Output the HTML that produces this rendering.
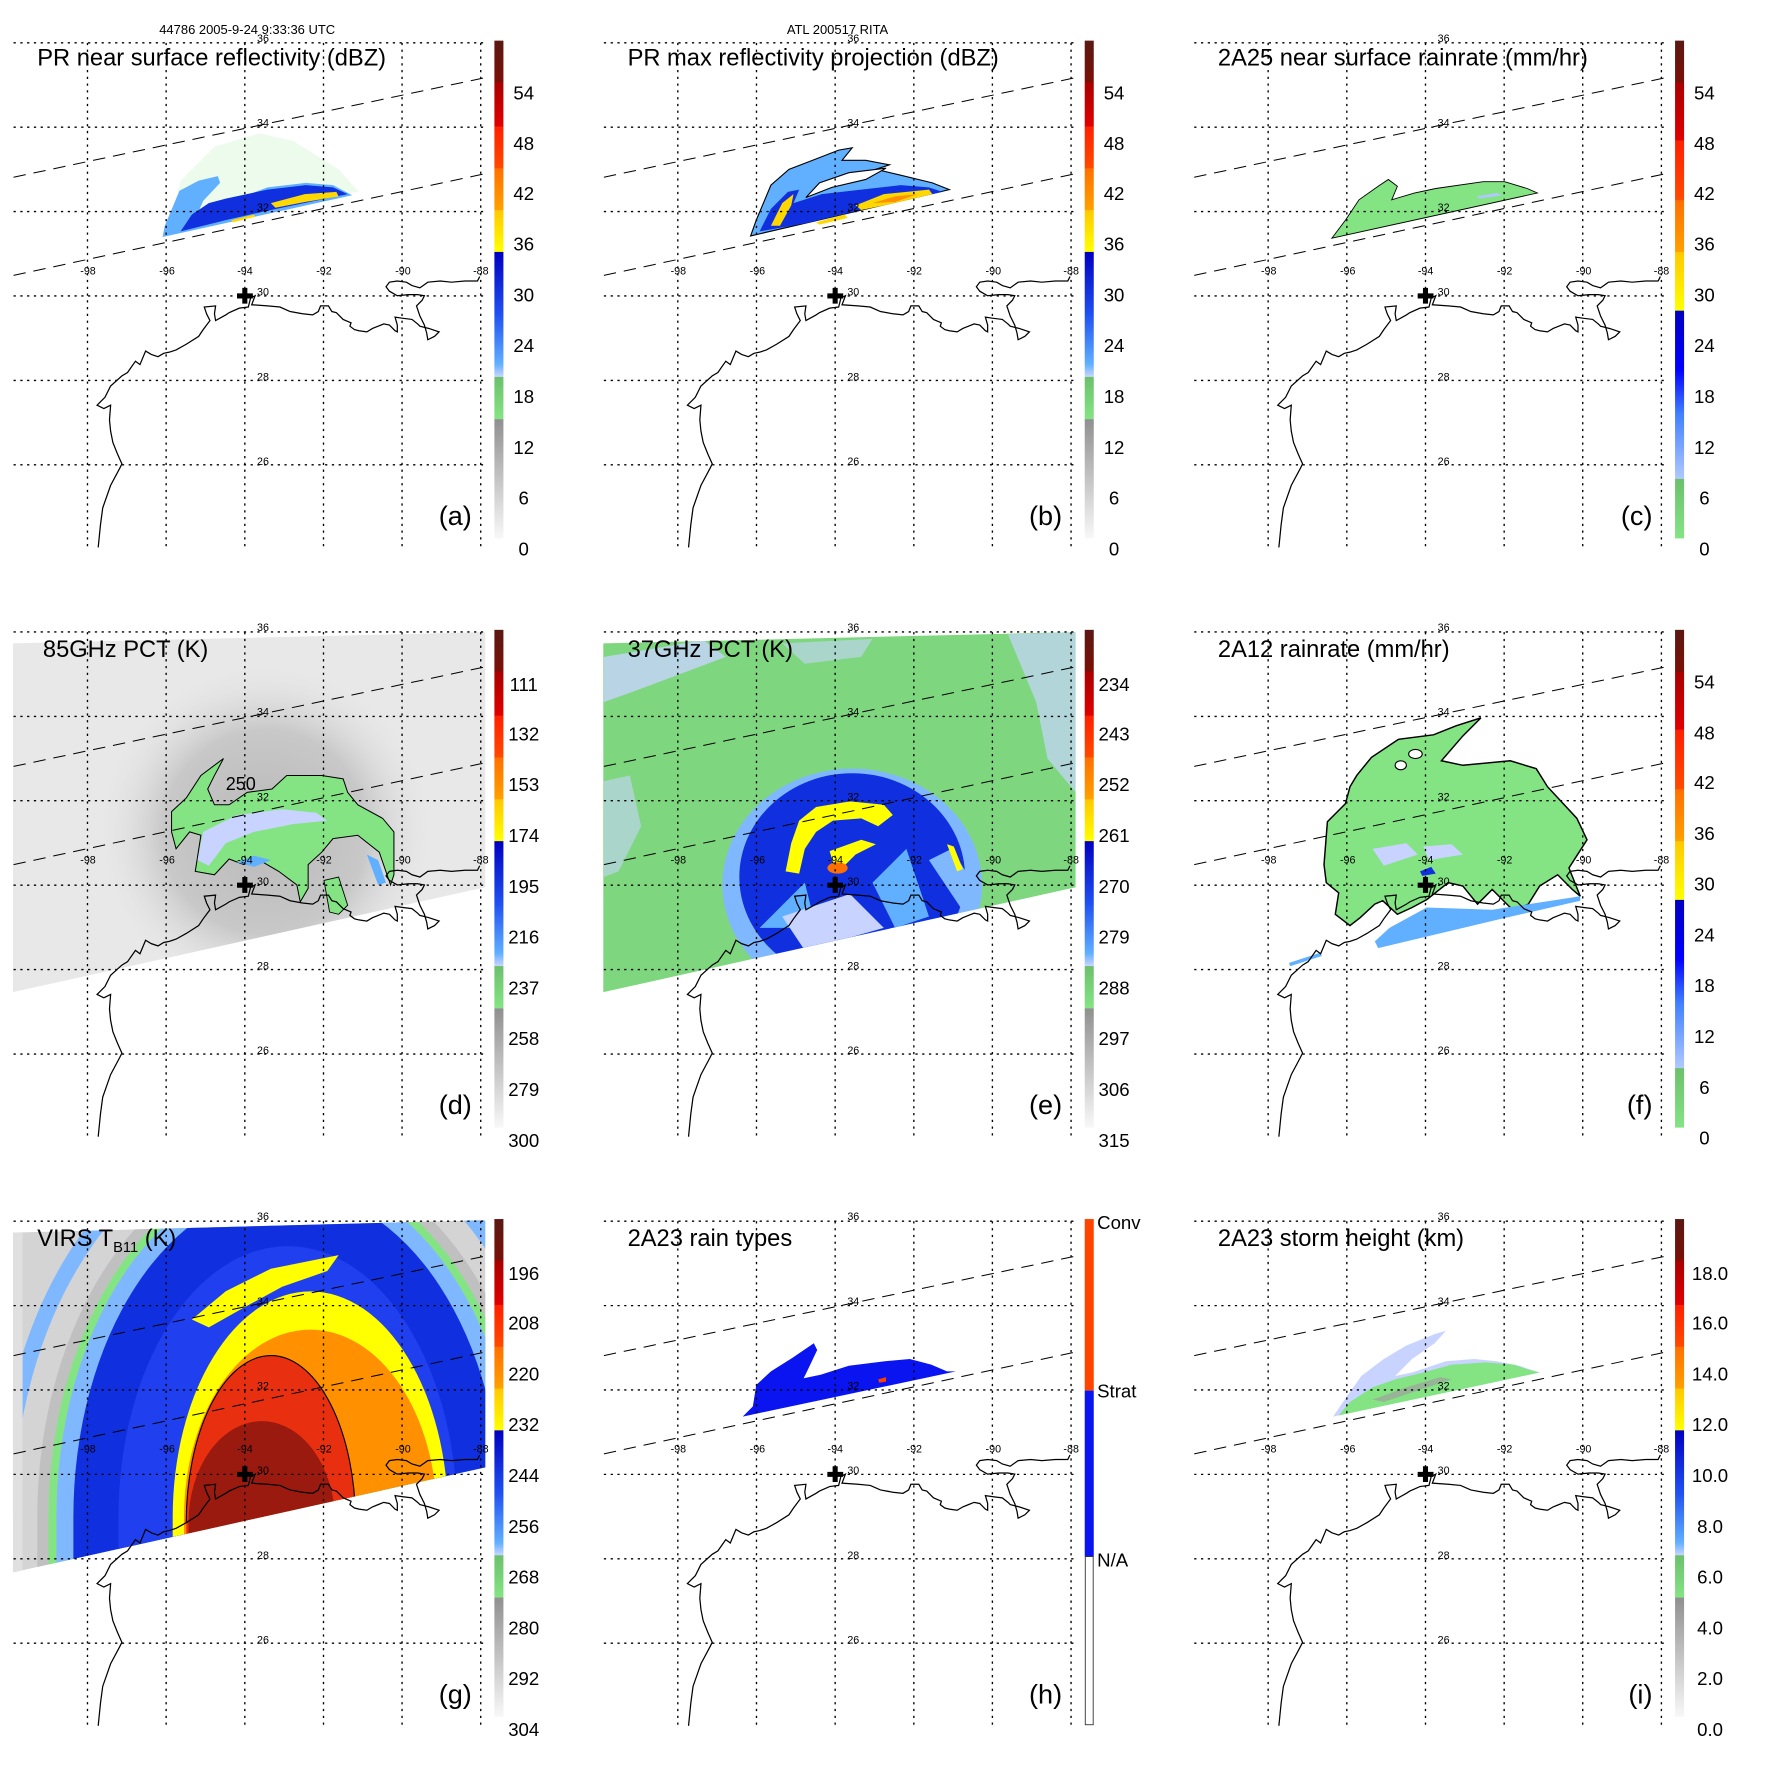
<!DOCTYPE html>
<html><head><meta charset="utf-8"><style>
html,body{margin:0;padding:0;background:#fff;width:1771px;height:1771px;overflow:hidden}
svg{display:block}
text{font-family:"Liberation Sans",sans-serif}
</style></head><body>
<svg width="1771" height="1771" viewBox="0 0 1569 1569" xmlns="http://www.w3.org/2000/svg">
<defs>
<clipPath id="se"><polygon points="11.5,48 430,38 430,264 11.5,357"/></clipPath>
<g id="grid">
 <g stroke="#000" stroke-width="1.2" stroke-dasharray="2,4" fill="none">
  <path d="M77.5 38V485M147.2 38V485M216.9 38V485M286.6 38V485M356.2 38V485M425.9 38V485"/>
  <path d="M12 37.9H430M12 112.7H430M12 187.4H430M12 262.2H430M12 337H430M12 411.8H430"/>
 </g>
 <g stroke="#000" stroke-width="0.9" stroke-dasharray="11,7" fill="none">
  <path d="M12 157L429 69"/><path d="M12 244L429 154"/>
 </g>
 <path fill="none" stroke="#000" stroke-width="1.1" d="M87 485L89 465L91 450L98 430L106 415L108 411L104 402L100 392L98 382L97 372L98 359L92 362L86 359L88 357L93 352L98 342L108 333L113 330L120 320L124 323L129 311L134 314L140 316L145 313L150 312L156 310L165 305L176 298L180 292L186 284L183 278L181 272L191 271L190 278L191 284L200 279L203 277L212 273L220 272L222 264L226 262L223 270L237 271L248 272L257 276L268 278L277 279L282 276L284 271L291 271L294 276L298 277L304 283L311 286L310 289L314 292L318 293L325 294L330 291L335 289L340 287L345 288L350 293L352 294L352 288L350 281L357 282L365 283L370 287L372 289L380 291L389 294L385 298L379 301L378 295L376 288L372 280L369 271L374 266L376 262L370 261L362 261L352 262L345 258L342 254L345 250L352 249L360 250L365 253L372 255L379 250L390 249L400 250L412 249L423 249L425 245"/>
 <path d="M216.9 255V269M210 262.2H224" stroke="#000" stroke-width="4.5"/>
 <g font-size="9.5" fill="#000">
  <text x="233" y="37" text-anchor="middle">36</text>
  <text x="233" y="112" text-anchor="middle">34</text>
  <text x="233" y="187" text-anchor="middle">32</text>
  <text x="233" y="262" text-anchor="middle">30</text>
  <text x="233" y="337" text-anchor="middle">28</text>
  <text x="233" y="412" text-anchor="middle">26</text>
  <text x="78" y="243" text-anchor="middle">-98</text>
  <text x="148" y="243" text-anchor="middle">-96</text>
  <text x="217" y="243" text-anchor="middle">-94</text>
  <text x="287" y="243" text-anchor="middle">-92</text>
  <text x="357" y="243" text-anchor="middle">-90</text>
  <text x="426" y="243" text-anchor="middle">-88</text>
 </g>
</g>
<linearGradient id="gA" x1="0" y1="36" x2="0" y2="477" gradientUnits="userSpaceOnUse">
 <stop offset="0" stop-color="#5a1812"/><stop offset="0.083" stop-color="#7a1008"/>
 <stop offset="0.084" stop-color="#a80000"/><stop offset="0.172" stop-color="#e00000"/>
 <stop offset="0.173" stop-color="#ff2000"/><stop offset="0.256" stop-color="#ff4a00"/>
 <stop offset="0.257" stop-color="#ff7000"/><stop offset="0.34" stop-color="#ffa000"/>
 <stop offset="0.341" stop-color="#ffc800"/><stop offset="0.424" stop-color="#ffff00"/>
 <stop offset="0.425" stop-color="#0000c0"/><stop offset="0.55" stop-color="#2050f0"/>
 <stop offset="0.65" stop-color="#60b0ff"/><stop offset="0.675" stop-color="#c8d4ff"/>
 <stop offset="0.676" stop-color="#6cc06c"/><stop offset="0.76" stop-color="#84e484"/>
 <stop offset="0.761" stop-color="#909090"/><stop offset="1" stop-color="#f8f8f8"/>
</linearGradient>
<linearGradient id="gB" x1="0" y1="36" x2="0" y2="477" gradientUnits="userSpaceOnUse">
 <stop offset="0" stop-color="#5a1812"/><stop offset="0.084" stop-color="#7a1008"/>
 <stop offset="0.085" stop-color="#a80000"/><stop offset="0.2" stop-color="#e00000"/>
 <stop offset="0.201" stop-color="#ff2000"/><stop offset="0.32" stop-color="#ff4a00"/>
 <stop offset="0.321" stop-color="#ff7000"/><stop offset="0.424" stop-color="#ffa000"/>
 <stop offset="0.425" stop-color="#ffc800"/><stop offset="0.542" stop-color="#ffff00"/>
 <stop offset="0.543" stop-color="#0000c0"/><stop offset="0.66" stop-color="#0000ff"/>
 <stop offset="0.75" stop-color="#4080ff"/><stop offset="0.88" stop-color="#b0c8ff"/>
 <stop offset="0.881" stop-color="#6cc06c"/><stop offset="1" stop-color="#84e484"/>
</linearGradient>
<radialGradient id="halo" cx="235" cy="215" r="150" gradientUnits="userSpaceOnUse">
 <stop offset="0" stop-color="#b8b8b8"/><stop offset="0.6" stop-color="#c8c8c8"/><stop offset="1" stop-color="#e6e6e6" stop-opacity="0"/>
</radialGradient>
</defs>

<g font-size="11.5"><text x="219" y="30" text-anchor="middle">44786 2005-9-24 9:33:36 UTC</text>
<text x="742" y="30" text-anchor="middle">ATL 200517 RITA</text></g>

<!-- a -->
<g>
 <polygon fill="#84e484" opacity="0.15" points="150,200 160,160 190,130 230,118 260,125 300,150 318,170 230,180"/>
 <polygon fill="#60b0ff" points="144,210 146,200 159,169 176,160 193,156 195,162 180,178 172,196 190,190 205,178 237,166 271,162 295,164 312,173"/>
 <polygon fill="#1030e0" points="160,205 170,190 185,180 200,176 237,168 271,164 295,166 308,172 240,186 200,195"/>
 <polygon fill="#ffd800" points="240,180 270,172 298,170 300,174 270,179 244,184"/>
 <polygon fill="#ffd800" points="205,195 225,190 226,192 206,197"/>
 <use href="#grid"/>
 <rect x="438" y="36" width="8" height="441" fill="url(#gA)"/>
 <g font-size="16.5" text-anchor="middle"><text x="464" y="88">54</text><text x="464" y="133">48</text><text x="464" y="177">42</text><text x="464" y="222">36</text><text x="464" y="267">30</text><text x="464" y="312">24</text><text x="464" y="357">18</text><text x="464" y="402">12</text><text x="464" y="447">6</text><text x="464" y="492">0</text></g>
 <text x="33" y="58" font-size="21">PR near surface reflectivity (dBZ)</text>
 <text x="418" y="465" font-size="24" text-anchor="end">(a)</text>
</g>

<!-- b -->
<g transform="translate(523,0)">
 <polygon fill="#60b0ff" stroke="#000" stroke-width="1" points="142,209 147,195 160,164 176,150 197,142 220,133 232,131 223,142 244,142 265,146 253,150 274,155 303,162 318,168"/>
 <polygon fill="#fff" stroke="#000" stroke-width="1" points="191,175 203,162 229,153 262,149 244,159 214,166"/>
 <polygon fill="#1030e0" points="150,205 160,185 175,170 185,168 180,180 205,172 240,168 275,164 300,166 312,170 240,186 190,198"/>
 <polygon fill="#ffd800" points="160,200 170,180 180,172 178,182 168,200"/>
 <polygon fill="#ffd800" points="235,182 260,172 300,168 303,172 260,182 240,186"/>
 <polygon fill="#ff9000" points="250,180 270,174 290,172 270,179"/>
 <polygon fill="#ffd800" points="200,197 225,190 228,193 203,199"/>
 <use href="#grid"/>
 <rect x="438" y="36" width="8" height="441" fill="url(#gA)"/>
 <g font-size="16.5" text-anchor="middle"><text x="464" y="88">54</text><text x="464" y="133">48</text><text x="464" y="177">42</text><text x="464" y="222">36</text><text x="464" y="267">30</text><text x="464" y="312">24</text><text x="464" y="357">18</text><text x="464" y="402">12</text><text x="464" y="447">6</text><text x="464" y="492">0</text></g>
 <text x="33" y="58" font-size="21">PR max reflectivity projection (dBZ)</text>
 <text x="418" y="465" font-size="24" text-anchor="end">(b)</text>
</g>

<!-- c -->
<g transform="translate(1046,0)">
 <polygon fill="#84e484" stroke="#000" stroke-width="0.8" points="134,211 146,195 158,177 175,165 184,159 192,165 187,177 207,171 226,167 268,161 287,161 307,167 316,171"/>
 <polygon fill="#b0c8ff" points="262,174 280,171 285,173 265,176"/>
 <use href="#grid"/>
 <rect x="438" y="36" width="8" height="441" fill="url(#gB)"/>
 <g font-size="16.5" text-anchor="middle"><text x="464" y="88">54</text><text x="464" y="133">48</text><text x="464" y="177">42</text><text x="464" y="222">36</text><text x="464" y="267">30</text><text x="464" y="312">24</text><text x="464" y="357">18</text><text x="464" y="402">12</text><text x="464" y="447">6</text><text x="464" y="492">0</text></g>
 <text x="33" y="58" font-size="21">2A25 near surface rainrate (mm/hr)</text>
 <text x="418" y="465" font-size="24" text-anchor="end">(c)</text>
</g>

<!-- d -->
<g transform="translate(0,522)">
 <g clip-path="url(#se)">
  <rect x="0" y="30" width="440" height="340" fill="#e8e8e8"/>
  <rect x="0" y="30" width="440" height="340" fill="url(#halo)"/>
 </g>
 <polygon fill="#84e484" stroke="#000" stroke-width="0.9" points="198,150 178,165 165,185 152,197 152,215 156,230 168,215 178,218 173,250 190,253 203,239 216,244 228,239 247,250 263,262 266,277 273,265 273,244 285,233 295,221 317,218 336,233 346,262 349,253 349,215 339,203 317,191 308,180 304,168 285,165 254,165 241,177 219,180 203,191 190,191 184,177 190,165"/>
 <polygon fill="#c8d4ff" points="175,240 180,215 210,200 250,195 280,198 290,205 260,208 225,215 200,225 185,245"/>
 <polygon fill="#60b0ff" points="210,242 225,236 240,240 225,246"/>
 <polygon fill="#84e484" stroke="#000" stroke-width="0.8" points="287,258 300,255 308,280 300,288 292,286"/>
 <polygon fill="#60b0ff" points="325,235 335,240 342,260 335,262"/>
 <use href="#grid"/>
 <text x="200" y="178" font-size="16">250</text>
 <rect x="438" y="36" width="8" height="441" fill="url(#gA)"/>
 <g font-size="16.5" text-anchor="middle"><text x="464" y="90">111</text><text x="464" y="134">132</text><text x="464" y="179">153</text><text x="464" y="224">174</text><text x="464" y="269">195</text><text x="464" y="314">216</text><text x="464" y="359">237</text><text x="464" y="404">258</text><text x="464" y="449">279</text><text x="464" y="494">300</text></g>
 <text x="38" y="60" font-size="21">85GHz PCT (K)</text>
 <text x="418" y="465" font-size="24" text-anchor="end">(d)</text>
</g>

<!-- e -->
<g transform="translate(523,522)">
 <g clip-path="url(#se)">
  <rect x="0" y="30" width="440" height="340" fill="#7ed67e"/>
  <polygon fill="#c8d4ff" opacity="0.8" points="12,60 60,52 100,45 120,60 80,75 40,90 12,100"/>
  <polygon fill="#c8d4ff" opacity="0.7" points="370,40 430,38 430,180 405,150 395,100"/>
  <polygon fill="#c8d4ff" opacity="0.6" points="12,170 35,165 45,210 25,250 12,255"/>
  <polygon fill="#c8d4ff" opacity="0.6" points="170,48 250,44 240,60 190,66"/>
  <ellipse cx="232" cy="262" rx="115" ry="103" fill="#80b8ff"/>
  <ellipse cx="232" cy="255" rx="100" ry="92" fill="#1030e0"/>
  <polygon fill="#60b0ff" points="150,300 190,260 200,300"/>
  <polygon fill="#60b0ff" points="250,260 280,230 300,290 270,300"/>
  <polygon fill="#80b8ff" points="300,240 320,230 345,270 330,285"/>
  <polygon fill="#c8d4ff" points="170,290 230,270 260,300 190,320"/>
 </g>
 <polygon fill="#ffff00" points="173,250 178,225 185,205 200,193 230,188 260,191 268,200 255,210 240,203 215,205 200,215 190,230 185,252"/>
 <polygon fill="#ffff00" points="212,232 240,222 253,226 235,235 225,245 215,242"/>
 <ellipse cx="219" cy="247" rx="9" ry="5" fill="#ff7000"/>
 <polygon fill="#ffff00" points="316,226 322,228 330,248 325,250"/>
 <use href="#grid"/>
 <rect x="438" y="36" width="8" height="441" fill="url(#gA)"/>
 <g font-size="16.5" text-anchor="middle"><text x="464" y="90">234</text><text x="464" y="134">243</text><text x="464" y="179">252</text><text x="464" y="224">261</text><text x="464" y="269">270</text><text x="464" y="314">279</text><text x="464" y="359">288</text><text x="464" y="404">297</text><text x="464" y="449">306</text><text x="464" y="494">315</text></g>
 <text x="33" y="60" font-size="21">37GHz PCT (K)</text>
 <text x="418" y="465" font-size="24" text-anchor="end">(e)</text>
</g>

<!-- f -->
<g transform="translate(1046,522)">
 <polygon fill="#84e484" stroke="#000" stroke-width="1.3" points="266,114 244,121 224,129 193,133 169,149 156,165 150,175 146,190 130,206 127,244 129,260 140,269 137,288 150,298 159,291 172,279 179,276 192,288 205,282 218,275 237,260 250,263 263,279 276,266 289,279 295,285 308,279 318,263 334,253 347,266 354,272 344,247 360,222 351,203 325,175 315,159 292,152 250,156 231,152 250,130"/>
 <ellipse cx="208" cy="146" rx="6" ry="4" fill="#fff" stroke="#000"/>
 <ellipse cx="195" cy="156" rx="5" ry="4" fill="#fff" stroke="#000"/>
 <polygon fill="#c8d4ff" points="170,230 200,225 210,235 180,245"/>
 <polygon fill="#c8d4ff" points="215,228 240,226 250,235 220,240"/>
 <polygon fill="#1030e0" points="212,250 222,246 226,252 214,254"/>
 <polygon fill="#60b0ff" points="172,312 185,300 218,282 276,284 354,272 354,276 280,293 175,318"/>
 <polygon fill="#60b0ff" points="96,331 124,322 125,325 97,334"/>
 <use href="#grid"/>
 <rect x="438" y="36" width="8" height="441" fill="url(#gB)"/>
 <g font-size="16.5" text-anchor="middle"><text x="464" y="88">54</text><text x="464" y="133">48</text><text x="464" y="177">42</text><text x="464" y="222">36</text><text x="464" y="267">30</text><text x="464" y="312">24</text><text x="464" y="357">18</text><text x="464" y="402">12</text><text x="464" y="447">6</text><text x="464" y="492">0</text></g>
 <text x="33" y="60" font-size="21">2A12 rainrate (mm/hr)</text>
 <text x="418" y="465" font-size="24" text-anchor="end">(f)</text>
</g>

<!-- g -->
<clipPath id="sg"><polygon points="11.5,48 430,37 430,256 11.5,349"/></clipPath>
<g transform="translate(0,1044)">
 <g clip-path="url(#sg)">
  <rect x="0" y="20" width="440" height="340" fill="#d4d4d4"/>
  <path d="M5 300A250 350 0 0 1 505 300" fill="none" stroke="#80b8ff" stroke-width="14"/>
  <path d="M33 300A222 322 0 0 1 477 300V360H33Z" fill="#c0c0c0"/>
  <path d="M43 300A212 312 0 0 1 467 300V360H43Z" fill="#84e484"/>
  <path d="M50 300A205 305 0 0 1 460 300V360H50Z" fill="#80b8ff"/>
  <path d="M65 300A190 290 0 0 1 445 300V360H65Z" fill="#1030e0"/>
  <path d="M105 300A150 240 0 0 1 405 300V360H105Z" fill="#2040f0"/>
  <polygon fill="#ffff00" points="170,125 200,100 240,80 300,68 290,82 250,96 215,115 185,132"/>
  <path d="M153 300A122 200 0 0 1 397 300V360H153Z" fill="#ffff00"/>
  <path d="M163 300A112 166 0 0 1 387 300V360H163Z" fill="#ff9000"/>
  <path d="M165 305A75 148 0 0 1 315 305V360H165Z" fill="#e83010"/>
  <path d="M167 305A65 90 0 0 1 297 305V360H167Z" fill="#9a1a10"/>
  <path d="M165 305A75 148 0 0 1 315 305V360" fill="none" stroke="#000" stroke-width="1"/>
  <rect x="0" y="20" width="20" height="340" fill="#e0e0e0"/>
 </g>
 <use href="#grid"/>
 <g font-size="16.5" text-anchor="middle"><text x="464" y="90">196</text><text x="464" y="134">208</text><text x="464" y="179">220</text><text x="464" y="224">232</text><text x="464" y="269">244</text><text x="464" y="314">256</text><text x="464" y="359">268</text><text x="464" y="404">280</text><text x="464" y="449">292</text><text x="464" y="494">304</text></g>
 <rect x="438" y="36" width="8" height="441" fill="url(#gA)"/>
 <text x="33" y="60" font-size="21">VIRS T<tspan font-size="13" dy="5">B11</tspan><tspan dy="-5"> (K)</tspan></text>
 <text x="418" y="465" font-size="24" text-anchor="end">(g)</text>
</g>

<!-- h -->
<g transform="translate(523,1044)">
 <polygon fill="#0a14f0" points="135,211 144,202 147,183 160,171 179,159 198,146 201,152 192,171 189,177 204,174 229,166 261,162 283,160 302,165 316,171 324,171"/>
 <polygon fill="#ff4000" points="255,178 262,176 262,180 256,181"/>
 <use href="#grid"/>
 <rect x="438" y="36" width="8" height="152" fill="#ff4400"/>
 <rect x="438" y="188" width="8" height="147" fill="#0a14f0"/>
 <rect x="438.5" y="335" width="7" height="149" fill="#fff" stroke="#333" stroke-width="0.8"/>
 <g font-size="16.5"><text x="449" y="45">Conv</text><text x="449" y="194">Strat</text><text x="449" y="344">N/A</text></g>
 <text x="33" y="60" font-size="21">2A23 rain types</text>
 <text x="418" y="465" font-size="24" text-anchor="end">(h)</text>
</g>

<!-- i -->
<g transform="translate(1046,1044)">
 <polygon fill="#c8d4ff" points="135,211 146,195 160,175 180,160 200,148 225,138 235,135 225,146 205,160 190,175 205,172 235,162 260,160 280,162 300,166 318,172"/>
 <polygon fill="#84e484" points="140,210 150,198 170,185 190,178 215,172 240,165 270,163 295,165 310,170 318,172"/>
 <polygon fill="#a0a0a0" opacity="0.7" points="170,196 200,185 230,176 240,178 210,188 180,198"/>
 <use href="#grid"/>
 <rect x="438" y="36" width="8" height="441" fill="url(#gA)"/>
 <g font-size="16.5" text-anchor="middle"><text x="469" y="90">18.0</text><text x="469" y="134">16.0</text><text x="469" y="179">14.0</text><text x="469" y="224">12.0</text><text x="469" y="269">10.0</text><text x="469" y="314">8.0</text><text x="469" y="359">6.0</text><text x="469" y="404">4.0</text><text x="469" y="449">2.0</text><text x="469" y="494">0.0</text></g>
 <text x="33" y="60" font-size="21">2A23 storm height (km)</text>
 <text x="418" y="465" font-size="24" text-anchor="end">(i)</text>
</g>
</svg>
</body></html>
